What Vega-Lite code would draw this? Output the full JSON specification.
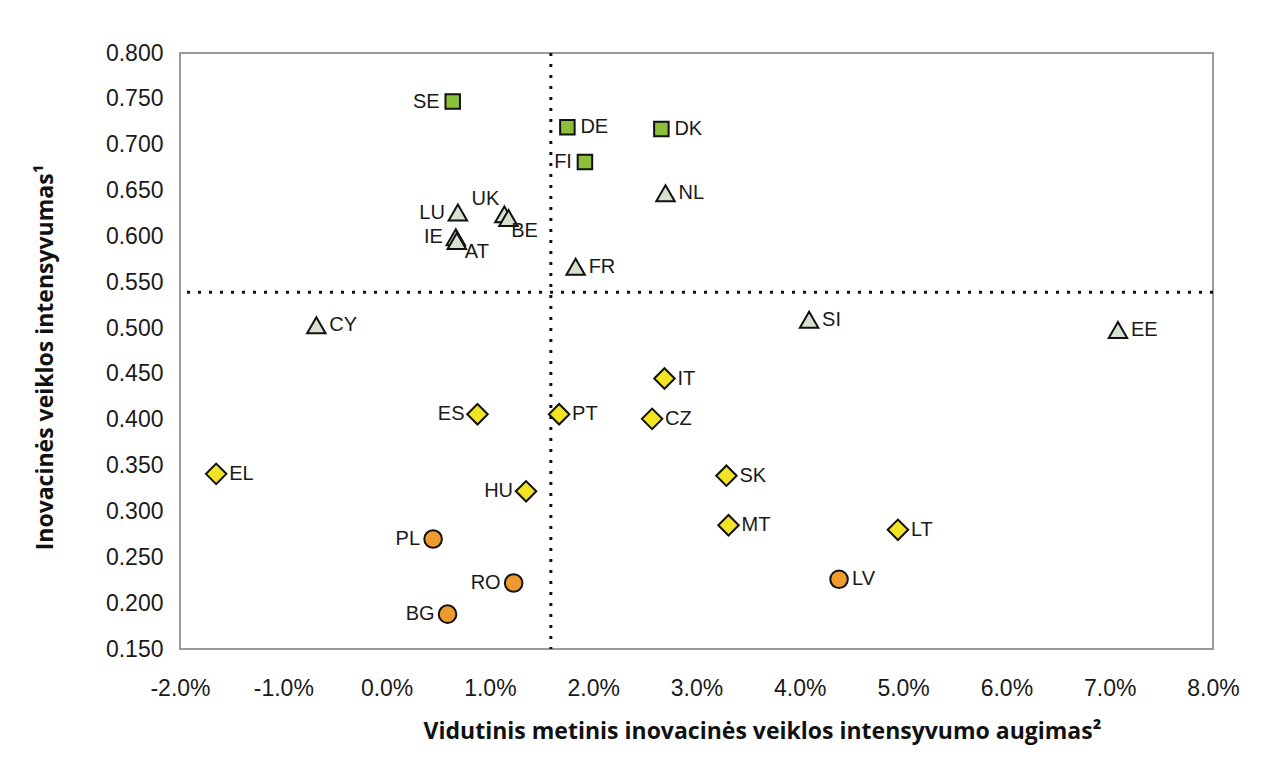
{
  "$schema": "https://vega.github.io/schema/vega-lite/v6.json",
  "width": 1033,
  "height": 596,
  "autosize": {"type": "none"},
  "padding": {"left": 180, "top": 53, "right": 50, "bottom": 109},
  "background": "white",
  "config": {
    "view": {"stroke": "#9a9a9a", "strokeWidth": 2},
    "axis": {"grid": false, "domain": false, "ticks": false, "tickSize": 0, "labelFlush": false, "labelOverlap": false,
      "labelFont": "Liberation Sans", "labelFontSize": 23, "labelColor": "#1a1a1a",
      "titleFont": "Open Sans", "titleFontWeight": "bold", "titleFontSize": 23, "titleColor": "#111111"}
  },
  "datasets": {
    "salys": [
      {"salis": "SE", "augimas": 0.0064, "intensyvumas": 0.747, "grupe": "Lyderės"},
      {"salis": "DE", "augimas": 0.0175, "intensyvumas": 0.719, "grupe": "Lyderės"},
      {"salis": "DK", "augimas": 0.0266, "intensyvumas": 0.717, "grupe": "Lyderės"},
      {"salis": "FI", "augimas": 0.0192, "intensyvumas": 0.681, "grupe": "Lyderės"},
      {"salis": "NL", "augimas": 0.0270, "intensyvumas": 0.647, "grupe": "Sekėjos"},
      {"salis": "LU", "augimas": 0.0069, "intensyvumas": 0.626, "grupe": "Sekėjos"},
      {"salis": "UK", "augimas": 0.0114, "intensyvumas": 0.624, "grupe": "Sekėjos"},
      {"salis": "BE", "augimas": 0.0118, "intensyvumas": 0.620, "grupe": "Sekėjos"},
      {"salis": "IE", "augimas": 0.0067, "intensyvumas": 0.599, "grupe": "Sekėjos"},
      {"salis": "AT", "augimas": 0.0068, "intensyvumas": 0.595, "grupe": "Sekėjos"},
      {"salis": "FR", "augimas": 0.0183, "intensyvumas": 0.567, "grupe": "Sekėjos"},
      {"salis": "CY", "augimas": -0.0068, "intensyvumas": 0.503, "grupe": "Sekėjos"},
      {"salis": "SI", "augimas": 0.0409, "intensyvumas": 0.509, "grupe": "Sekėjos"},
      {"salis": "EE", "augimas": 0.0708, "intensyvumas": 0.498, "grupe": "Sekėjos"},
      {"salis": "IT", "augimas": 0.0269, "intensyvumas": 0.445, "grupe": "Vidutinės"},
      {"salis": "ES", "augimas": 0.0088, "intensyvumas": 0.406, "grupe": "Vidutinės"},
      {"salis": "PT", "augimas": 0.0167, "intensyvumas": 0.406, "grupe": "Vidutinės"},
      {"salis": "CZ", "augimas": 0.0257, "intensyvumas": 0.401, "grupe": "Vidutinės"},
      {"salis": "EL", "augimas": -0.0165, "intensyvumas": 0.341, "grupe": "Vidutinės"},
      {"salis": "SK", "augimas": 0.0329, "intensyvumas": 0.339, "grupe": "Vidutinės"},
      {"salis": "HU", "augimas": 0.0135, "intensyvumas": 0.322, "grupe": "Vidutinės"},
      {"salis": "MT", "augimas": 0.0331, "intensyvumas": 0.285, "grupe": "Vidutinės"},
      {"salis": "LT", "augimas": 0.0495, "intensyvumas": 0.280, "grupe": "Vidutinės"},
      {"salis": "PL", "augimas": 0.0045, "intensyvumas": 0.270, "grupe": "Kuklios"},
      {"salis": "LV", "augimas": 0.0438, "intensyvumas": 0.226, "grupe": "Kuklios"},
      {"salis": "RO", "augimas": 0.0123, "intensyvumas": 0.222, "grupe": "Kuklios"},
      {"salis": "BG", "augimas": 0.0059, "intensyvumas": 0.188, "grupe": "Kuklios"}
    ],
    "vidurkiai": [{"augimas": 0.0159, "intensyvumas": 0.539}]
  },
  "encoding": {
    "x": {"field": "augimas", "type": "quantitative",
      "scale": {"domain": [-0.02, 0.08], "nice": false, "zero": false},
      "axis": {"values": [-0.02, -0.01, 0, 0.01, 0.02, 0.03, 0.04, 0.05, 0.06, 0.07, 0.08],
        "labelExpr": "replace(format(datum.value, '.1%'), '−', '-')",
        "labelPadding": 28, "labelBaseline": "top",
        "title": "Vidutinis metinis inovacinės veiklos intensyvumo augimas²",
        "titleX": 582, "titleY": 89, "titleAlign": "center", "titleBaseline": "alphabetic", "titleAnchor": null}},
    "y": {"field": "intensyvumas", "type": "quantitative",
      "scale": {"domain": [0.15, 0.8], "nice": false, "zero": false},
      "axis": {"values": [0.15, 0.2, 0.25, 0.3, 0.35, 0.4, 0.45, 0.5, 0.55, 0.6, 0.65, 0.7, 0.75, 0.8],
        "format": ".3f", "labelPadding": 17,
        "title": "Inovacinės veiklos intensyvumas¹",
        "titleX": -135, "titleY": 304, "titleAngle": -90, "titleAlign": "center", "titleBaseline": "middle", "titleAnchor": null}}
  },
  "layer": [
    {"data": {"name": "vidurkiai"}, "mark": {"type": "rule", "color": "#111111", "strokeWidth": 3, "strokeDash": [3, 8]},
      "encoding": {"x": {"field": "augimas", "type": "quantitative"}, "y": null}},
    {"data": {"name": "vidurkiai"}, "mark": {"type": "rule", "color": "#111111", "strokeWidth": 3, "strokeDash": [3, 8]},
      "encoding": {"y": {"field": "intensyvumas", "type": "quantitative"}, "x": null}},
    {"data": {"name": "salys"}, "transform": [{"filter": {"field": "grupe", "equal": "Lyderės"}}],
      "mark": {"type": "point", "shape": "square", "size": 210, "filled": true, "fill": "#8cc03a", "opacity": 1, "stroke": "#111111", "strokeWidth": 2}},
    {"data": {"name": "salys"}, "transform": [{"filter": {"field": "grupe", "equal": "Sekėjos"}}],
      "mark": {"type": "point", "shape": "triangle-up", "size": 340, "filled": true, "fill": "#d6e2cf", "opacity": 1, "stroke": "#111111", "strokeWidth": 2}},
    {"data": {"name": "salys"}, "transform": [{"filter": {"field": "grupe", "equal": "Vidutinės"}}],
      "mark": {"type": "point", "shape": "diamond", "size": 420, "filled": true, "fill": "#f2e424", "opacity": 1, "stroke": "#111111", "strokeWidth": 2}},
    {"data": {"name": "salys"}, "transform": [{"filter": {"field": "grupe", "equal": "Kuklios"}}],
      "mark": {"type": "point", "shape": "circle", "size": 310, "filled": true, "fill": "#ee9a2e", "opacity": 1, "stroke": "#111111", "strokeWidth": 2}},
    {"data": {"name": "salys"},
      "transform": [{"filter": {"field": "salis", "oneOf": ["DE", "DK", "NL", "FR", "CY", "SI", "EE", "IT", "PT", "CZ", "EL", "SK", "MT", "LT", "LV"]}}],
      "mark": {"type": "text", "align": "left", "baseline": "middle", "dx": 13, "font": "Liberation Sans", "fontSize": 20, "color": "#1a1a1a"},
      "encoding": {"text": {"field": "salis"}}},
    {"data": {"name": "salys"},
      "transform": [{"filter": {"field": "salis", "oneOf": ["SE", "FI", "LU", "IE", "ES", "HU", "PL", "RO", "BG"]}}],
      "mark": {"type": "text", "align": "right", "baseline": "middle", "dx": -13, "font": "Liberation Sans", "fontSize": 20, "color": "#1a1a1a"},
      "encoding": {"text": {"field": "salis"}}},
    {"data": {"name": "salys"},
      "transform": [{"filter": {"field": "salis", "equal": "UK"}}],
      "mark": {"type": "text", "align": "center", "baseline": "middle", "dx": -19, "dy": -15, "font": "Liberation Sans", "fontSize": 20, "color": "#1a1a1a"},
      "encoding": {"text": {"field": "salis"}}},
    {"data": {"name": "salys"},
      "transform": [{"filter": {"field": "salis", "equal": "BE"}}],
      "mark": {"type": "text", "align": "center", "baseline": "middle", "dx": 16, "dy": 13, "font": "Liberation Sans", "fontSize": 20, "color": "#1a1a1a"},
      "encoding": {"text": {"field": "salis"}}},
    {"data": {"name": "salys"},
      "transform": [{"filter": {"field": "salis", "equal": "AT"}}],
      "mark": {"type": "text", "align": "center", "baseline": "middle", "dx": 20, "dy": 11, "font": "Liberation Sans", "fontSize": 20, "color": "#1a1a1a"},
      "encoding": {"text": {"field": "salis"}}}
  ]
}
